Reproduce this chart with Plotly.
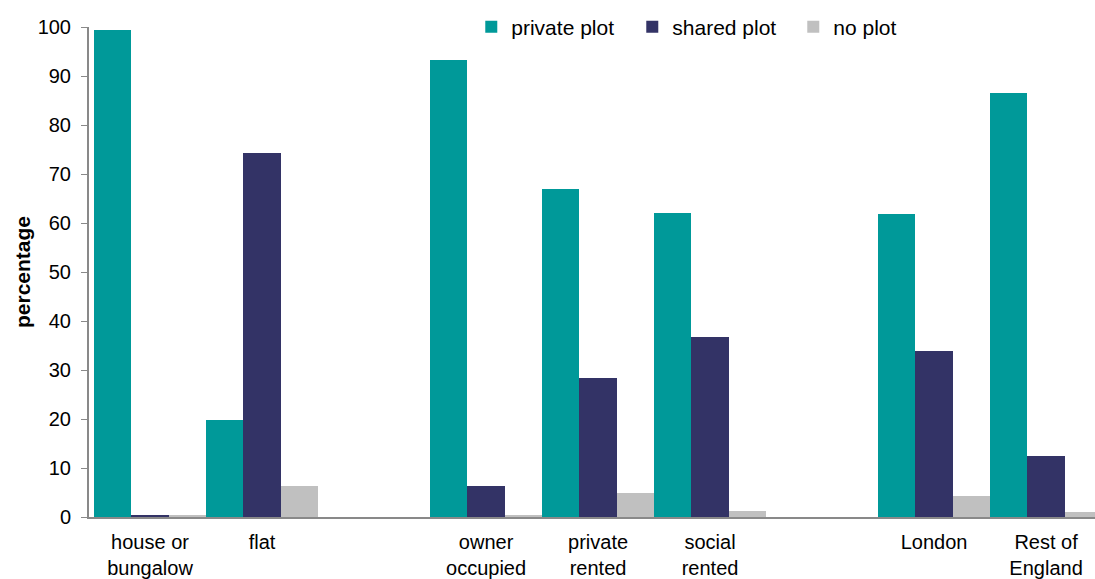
import plotly.graph_objects as go

categories = ["house or<br>bungalow", "flat", "", "owner<br>occupied", "private<br>rented",
              "social<br>rented", "", "London", "Rest of<br>England"]
private_plot = [99.4, 19.7, None, 93.2, 67.0, 62.1, None, 61.9, 86.6]
shared_plot = [0.3, 74.2, None, 6.3, 28.3, 36.7, None, 33.8, 12.4]
no_plot = [0.3, 6.3, None, 0.4, 4.9, 1.2, None, 4.2, 1.0]

series = [("private plot", private_plot, "#009999"),
          ("shared plot", shared_plot, "#333366"),
          ("no plot", no_plot, "#C0C0C0")]

xpos = list(range(len(categories)))

fig = go.Figure()
for name, vals, col in series:
    fig.add_trace(go.Bar(x=xpos, y=vals, name=name, marker=dict(color=col, line=dict(width=0))))

fig.update_layout(
    width=1095, height=579,
    margin=dict(l=89, r=0, t=27, b=62),
    paper_bgcolor="white", plot_bgcolor="white",
    barmode="group", bargap=0, bargroupgap=0,
    font=dict(family="Liberation Sans, Arial, sans-serif", size=20, color="#000000"),
    legend=dict(orientation="h", x=0.380, xanchor="left", y=1.0, yanchor="middle",
                font=dict(size=21), bgcolor="rgba(0,0,0,0)", itemwidth=30,
                entrywidth=116, entrywidthmode="pixels",
                traceorder="normal"),
    showlegend=True,
)
fig.update_xaxes(
    range=[-0.545, 8.437], tickvals=xpos, ticktext=categories,
    showline=True, linecolor="#898989", linewidth=2, ticks="", showgrid=False,
    zeroline=False, tickfont=dict(size=20), ticklabelstandoff=6,
)
fig.update_yaxes(
    range=[0, 100], dtick=10, showline=True, linecolor="#898989", linewidth=2,
    ticks="outside", ticklen=6, tickcolor="#898989", showgrid=False, zeroline=False,
    tickfont=dict(size=20), ticklabelstandoff=6,
    title=dict(text="<b>percentage</b>", font=dict(size=21), standoff=1),
)
fig.write_html("out.html")
